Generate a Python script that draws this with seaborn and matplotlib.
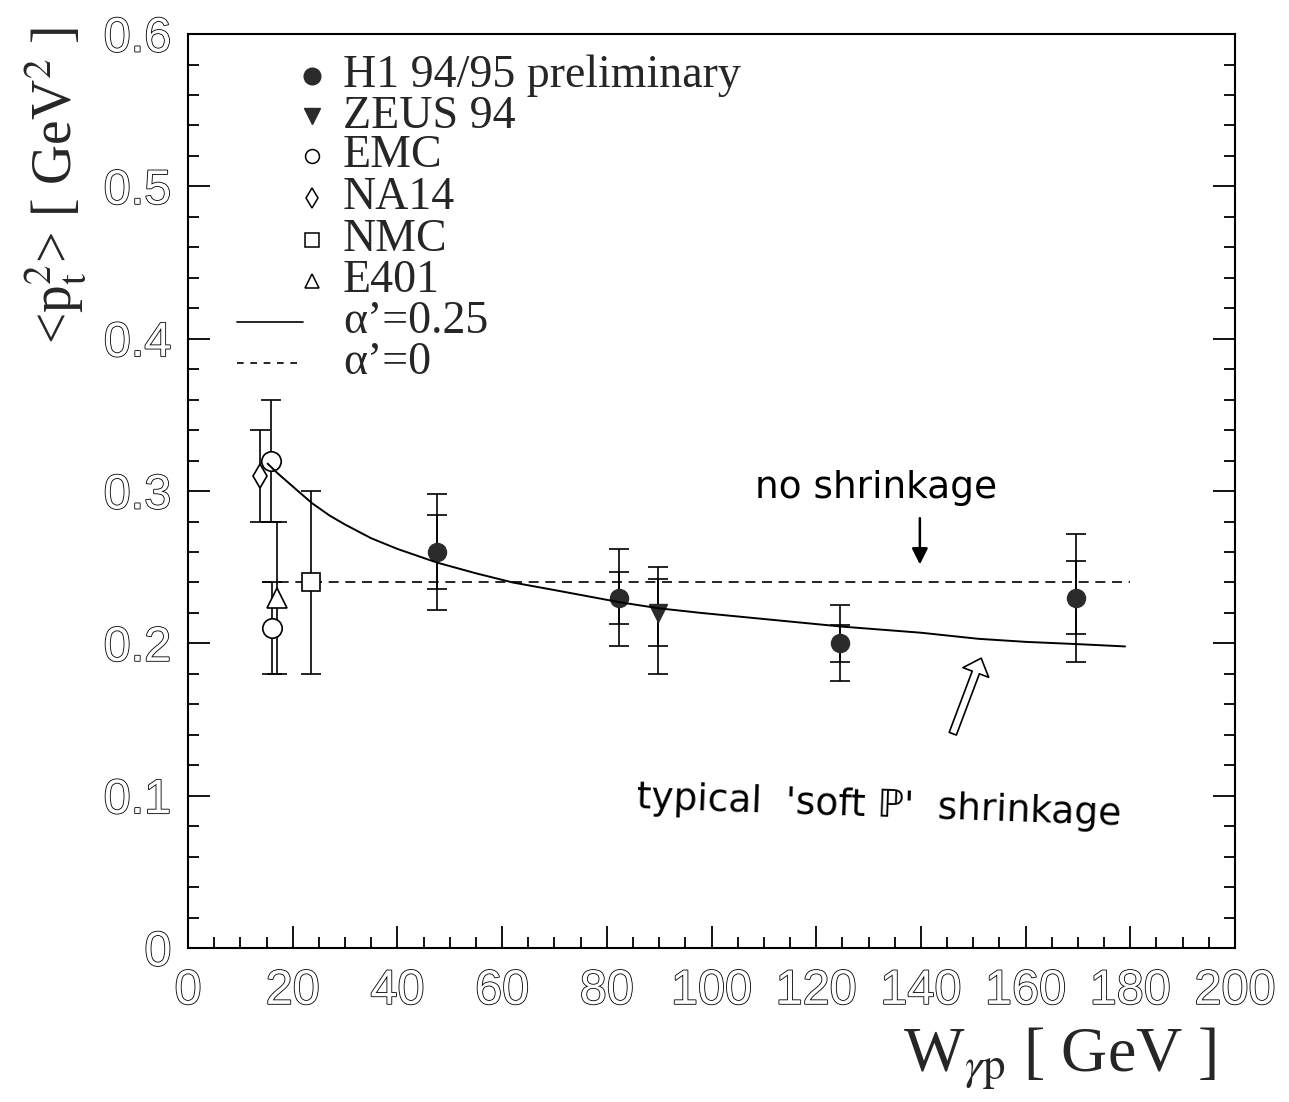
import matplotlib
matplotlib.use("Agg")
import matplotlib.pyplot as plt
import matplotlib.patheffects as pe
from matplotlib.ticker import MultipleLocator, FuncFormatter
import seaborn as sns

# === Data ===
h1_w = [47.5, 82.4, 124.6, 169.6]
h1_pt2 = [0.26, 0.23, 0.20, 0.23]
h1_stat = [0.024, 0.017, 0.012, 0.024]
h1_tot = [0.038, 0.032, 0.025, 0.042]

zeus_w = [89.8]
zeus_pt2 = [0.22]
zeus_stat_lo, zeus_stat_hi = [0.022], [0.022]
zeus_tot_lo, zeus_tot_hi = [0.040], [0.030]

emc_w = [15.9, 16.0]
emc_pt2 = [0.32, 0.21]
emc_err = [0.04, 0.03]

na14_w = [13.8]
na14_pt2 = [0.31]
na14_err = [0.03]

nmc_w = [23.5]
nmc_pt2 = [0.24]
nmc_err = [0.06]

e401_w = [17.0]
e401_pt2 = [0.23]
e401_err = [0.05]

# alpha' = 0.25 curve
curve_w = [15.2, 17, 19, 21, 23.7, 27, 30, 35, 40, 47.6, 55, 62, 70, 82.5,
           90, 98, 113, 125, 140, 151, 160, 170, 179]
curve_pt2 = [0.318, 0.312, 0.306, 0.300, 0.292, 0.284, 0.278, 0.269, 0.262,
             0.253, 0.246, 0.240, 0.235, 0.227, 0.223, 0.220, 0.215, 0.211,
             0.207, 0.203, 0.201, 0.1995, 0.198]

# alpha' = 0 (flat)
flat_w = [14.2, 180]
flat_pt2 = [0.24, 0.24]

legend_labels = ["H1 94/95 preliminary", "ZEUS 94", "EMC", "NA14", "NMC", "E401",
                 "\u03b1\u2019=0.25", "\u03b1\u2019=0"]

# === Style ===
sns.set_theme(style="ticks")
plt.rcParams["font.family"] = ["Liberation Serif", "DejaVu Serif"]
plt.rcParams["mathtext.fontset"] = "stix"

fig = plt.figure(figsize=(12.89, 11.02), dpi=100)
ax = fig.add_axes([0.1459, 0.1397, 0.8122, 0.8294])

ink = "black"
fill = "#2b2b2b"
ebar = dict(ecolor=ink, elinewidth=1.2, capsize=7, capthick=1.2)

# curves
sns.lineplot(x=curve_w, y=curve_pt2, ax=ax, color=ink, lw=1.4,
             estimator=None, sort=False, zorder=5)
sns.lineplot(x=flat_w, y=flat_pt2, ax=ax, color=ink, lw=1.2,
             estimator=None, sort=False, dashes=False, zorder=2)
ax.lines[-1].set_dashes((6, 4))

# H1: total + stat caps
ax.errorbar(h1_w, h1_pt2, yerr=h1_tot, fmt="o", ms=13, mfc=fill, mec=fill,
            zorder=4, **ebar)
ax.errorbar(h1_w, h1_pt2, yerr=h1_stat, fmt="none", zorder=4, **ebar)

# ZEUS
ax.errorbar(zeus_w, zeus_pt2, yerr=[zeus_tot_lo, zeus_tot_hi], fmt="v", ms=13,
            mfc=fill, mec=fill, zorder=4, **ebar)
ax.errorbar(zeus_w, zeus_pt2, yerr=[zeus_stat_lo, zeus_stat_hi], fmt="none",
            zorder=4, **ebar)

# fixed target experiments (open markers)
open_kw = dict(mfc="white", mec=ink, mew=1.2, zorder=4)
ax.errorbar(emc_w, emc_pt2, yerr=emc_err, fmt="o", ms=14, **open_kw, **ebar)
ax.errorbar(na14_w, na14_pt2, yerr=na14_err, fmt="d", ms=12, **open_kw, **ebar)
ax.errorbar(nmc_w, nmc_pt2, yerr=nmc_err, fmt="s", ms=13, **open_kw, **ebar)
ax.errorbar(e401_w, e401_pt2, yerr=e401_err, fmt="^", ms=14, **open_kw, **ebar)

# === Axes ===
ax.set_xlim(0, 200)
ax.set_ylim(0, 0.6)
ax.xaxis.set_major_locator(MultipleLocator(20))
ax.xaxis.set_minor_locator(MultipleLocator(5))
ax.yaxis.set_major_locator(MultipleLocator(0.1))
ax.yaxis.set_minor_locator(MultipleLocator(0.02))
ax.xaxis.set_major_formatter(FuncFormatter(lambda v, _: f"{v:g}"))
ax.yaxis.set_major_formatter(FuncFormatter(lambda v, _: f"{v:g}"))
ax.tick_params(which="both", direction="in", top=False, right=True,
               left=True, bottom=True, width=1.3, color=ink)
ax.tick_params(which="major", length=16)
ax.tick_params(which="minor", length=8)
ax.tick_params(axis="x", pad=15, labelsize=35, labelcolor="white")
ax.tick_params(axis="y", pad=12, labelsize=35, labelcolor="white")
for side in ax.spines.values():
    side.set_linewidth(1.5)
    side.set_color(ink)

outline = [pe.Stroke(linewidth=1.2, foreground="black"), pe.Normal()]
for lab in ax.get_xticklabels() + ax.get_yticklabels():
    lab.set_fontfamily(["Liberation Sans", "DejaVu Sans"])
    lab.set_path_effects(outline)

fig.text(0.043, 0.832, "<p$_\\mathrm{t}^\\mathrm{2}$> [ GeV$^\\mathrm{2}$ ]",
         rotation=90, ha="center", va="center", fontsize=40)
fig.text(0.822, 0.039, "W$_{\\gamma \\mathrm{p}}$ [ GeV ]",
         ha="center", va="center", fontsize=46)

# === Legend (drawn by hand, PAW style) ===
row_y = [0.954, 0.910, 0.867, 0.821, 0.775, 0.730, 0.685, 0.640]
mk_x, txt_x = 0.118, 0.148
tr = ax.transAxes
ax.plot([mk_x], [row_y[0]], "o", ms=12, mfc=fill, mec=fill, transform=tr)
ax.plot([mk_x], [row_y[1]], "v", ms=11, mfc=fill, mec=fill, transform=tr)
ax.plot([mk_x], [row_y[2]], "o", ms=10, mfc="white", mec=ink, mew=1.1, transform=tr)
ax.plot([mk_x], [row_y[3]], "d", ms=10, mfc="white", mec=ink, mew=1.1, transform=tr)
ax.plot([mk_x], [row_y[4]], "s", ms=10, mfc="white", mec=ink, mew=1.1, transform=tr)
ax.plot([mk_x], [row_y[5]], "^", ms=10, mfc="white", mec=ink, mew=1.1, transform=tr)
ax.plot([0.047, 0.110], [row_y[6]] * 2, color=ink, lw=1.2, transform=tr)
ax.plot([0.047, 0.110], [row_y[7]] * 2, color=ink, lw=1.2, dashes=(4, 4), transform=tr)
for yy, lab in zip(row_y, legend_labels):
    ax.text(txt_x, yy, lab, transform=tr, va="center", ha="left", fontsize=33)

# === Hand-written notes ===
note = dict(fontfamily=["DejaVu Sans"], fontsize=27, color=ink)
ax.text(131.5, 0.302, "no shrinkage", ha="center", va="center", **note)
ax.annotate("", xy=(139.8, 0.250), xytext=(139.8, 0.284),
            arrowprops=dict(arrowstyle="-|>", lw=1.8, color=ink,
                            mutation_scale=24))
ax.text(132.0, 0.093, "typical  'soft \u2119'  shrinkage", ha="center",
        va="center", rotation=-2, **note)
ax.annotate("", xy=(151.7, 0.192), xytext=(145.9, 0.139),
            arrowprops=dict(arrowstyle="simple,head_width=0.9,tail_width=0.25",
                            fc="white", ec=ink, lw=1.2, mutation_scale=22))

fig.savefig("out.png", dpi=100, facecolor="white")
